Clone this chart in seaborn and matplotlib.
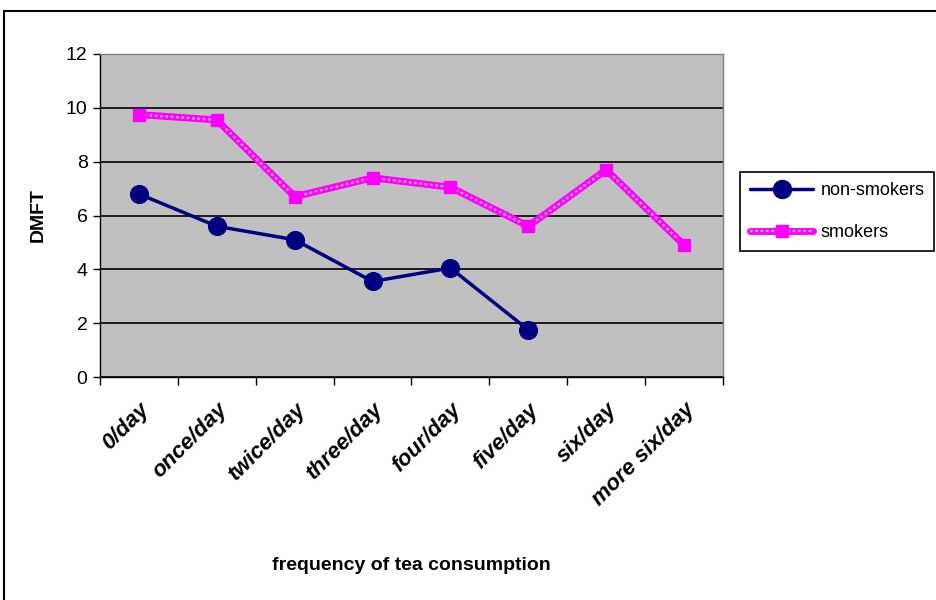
import matplotlib
matplotlib.use("Agg")
import matplotlib.pyplot as plt
from matplotlib.patches import Rectangle
from matplotlib.lines import Line2D
from matplotlib.legend_handler import HandlerTuple
import seaborn as sns
import pandas as pd
import numpy as np

categories = ["0/day", "once/day", "twice/day", "three/day", "four/day",
              "five/day", "six/day", "more six/day"]
non_smokers = [6.8, 5.6, 5.1, 3.55, 4.05, 1.75, np.nan, np.nan]
smokers = [9.75, 9.55, 6.7, 7.4, 7.05, 5.6, 7.7, 4.9]

sns.set_style("white")
plt.rcParams["font.family"] = ["Liberation Sans", "DejaVu Sans"]
plt.rcParams["text.color"] = "black"
plt.rcParams["axes.labelcolor"] = "black"
plt.rcParams["xtick.color"] = "black"
plt.rcParams["ytick.color"] = "black"

df = pd.DataFrame({"cat": categories, "non": non_smokers, "smk": smokers})
df["pos"] = np.arange(len(categories))

fig = plt.figure(figsize=(9.36, 6), dpi=100)
ax = fig.add_axes([100 / 936, 1 - 377 / 600, 623 / 936, 323 / 600])
ax.set_facecolor("#C0C0C0")

# smokers: thick magenta with a light checkered core
sns.lineplot(data=df, x="pos", y="smk", ax=ax, color="#FF00FF", lw=5, zorder=3)
sns.lineplot(data=df, x="pos", y="smk", ax=ax, color="#FFB0FF", lw=1.6,
             linestyle=(0, (1.2, 1.2)), zorder=4)
ax.plot(df["pos"], df["smk"], ls="none", marker="s", ms=8, color="#FF00FF", zorder=5)

# non-smokers
sns.lineplot(data=df.dropna(), x="pos", y="non", ax=ax, color="#000080", lw=2.5,
             marker="o", ms=13, mec="#000080", zorder=6)

ax.set_xlim(-0.5, len(categories) - 0.5)
ax.set_ylim(0, 12)
ax.set_yticks(range(0, 13, 2))
ax.yaxis.grid(True, color="black", lw=1.2)
ax.set_axisbelow(True)
for s in ["top", "right"]:
    ax.spines[s].set_color("#808080")
    ax.spines[s].set_linewidth(1)
for s in ["left", "bottom"]:
    ax.spines[s].set_color("black")
    ax.spines[s].set_linewidth(1)

ax.set_xticks(range(len(categories)))
ax.set_xticklabels(categories, rotation=45, ha="right", rotation_mode="anchor",
                   fontsize=16, fontweight="bold", fontstyle="italic")
ax.set_xticks(np.arange(-0.5, len(categories)), minor=True)
ax.tick_params(axis="x", which="major", length=0, pad=16)
ax.tick_params(axis="x", which="minor", length=6, width=1, color="black", direction="out")
ax.tick_params(axis="y", length=5, width=1, color="black", direction="out", labelsize=14, pad=4)
ax.tick_params(axis="both", which="both", bottom=True, left=True)

ax.set_xlabel("frequency of tea consumption", fontsize=14, fontweight="bold", labelpad=34)
ax.set_ylabel("DMFT", fontsize=14, fontweight="bold", labelpad=14)

h_non = Line2D([], [], color="#000080", lw=2.5, marker="o", ms=13)
h_smk = (Line2D([], [], color="#FF00FF", lw=5),
         Line2D([], [], color="#FFB0FF", lw=1.6, linestyle=(0, (1.2, 1.2))),
         Line2D([], [], ls="none", marker="s", ms=9, color="#FF00FF"))
leg = fig.legend([h_non, h_smk], ["non-smokers", "smokers"],
                 handler_map={tuple: HandlerTuple(ndivide=1, pad=0)},
                 loc="upper left", bbox_to_anchor=(740 / 936, 1 - 172 / 600),
                 fontsize=13, frameon=True, fancybox=False, framealpha=1,
                 edgecolor="black", handlelength=3.5, handletextpad=0.4,
                 borderpad=0.55, labelspacing=1.4, borderaxespad=0)
leg.get_frame().set_linewidth(1.2)

fig.patches.append(Rectangle((4 / 936, -0.1), 2, 1 - 11 / 600 + 0.1, transform=fig.transFigure,
                             fill=False, edgecolor="black", lw=1.5))

fig.savefig("out.png", dpi=100)
